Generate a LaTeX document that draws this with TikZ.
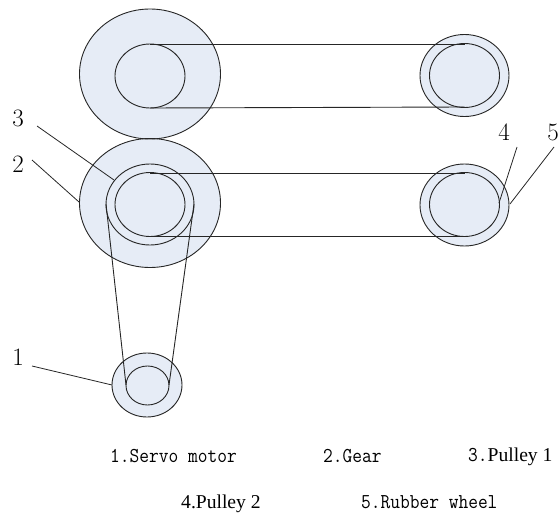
\documentclass[tikz,border=0pt]{standalone}
\usepackage{fontspec}
\newfontfamily\serifpart{Liberation Serif}
\newcommand{\mono}{\ttfamily\fontsize{18.9}{20}\selectfont}
\tikzset{
  x=1pt,y=-1pt,
  rim/.style={draw=black!85,line width=0.9pt},
  belt/.style={draw=black!85,line width=0.9pt},
  leader/.style={draw=black!85,line width=0.8pt},
  numlabel/.style={inner sep=0pt,font=\fontsize{25}{27}\selectfont},
  legend/.style={inner sep=0pt,anchor=base west,font=\mono},
}
\definecolor{wheelfill}{HTML}{E6ECF6}
\newcommand{\pul}[1]{{\serifpart\fontsize{19.6}{22}\selectfont #1}}
\newcommand{\tall}[1]{\scalebox{1}[1.12]{#1}}
\begin{document}
\begin{tikzpicture}
\useasboundingbox (0,0) rectangle (558,514);
% filled discs
\fill[wheelfill] (150,74) ellipse [x radius=70.5,y radius=65];
\fill[wheelfill] (150,203) ellipse [x radius=70.5,y radius=64.5];
\fill[wheelfill] (464.5,75.5) ellipse [x radius=44.5,y radius=41];
\fill[wheelfill] (464.5,205) ellipse [x radius=44.5,y radius=41];
\fill[wheelfill] (147,385) ellipse [x radius=35,y radius=32];
% named points
\coordinate (t1) at (150,44); \coordinate (t2) at (464.5,44);
\coordinate (b1) at (150,108); \coordinate (b2) at (464.5,107);
\coordinate (t3) at (150,173); \coordinate (t4) at (464.5,173);
\coordinate (b3) at (150,236); \coordinate (b4) at (464.5,236);
\coordinate (pl) at (106,204); \coordinate (pr) at (194,204);
\coordinate (ml) at (126,385); \coordinate (mr) at (169,385);
% belts
\draw[belt] (t1) -- (t2);
\draw[belt] (b1) -- (b2);
\draw[belt] (t3) -- (t4);
\draw[belt] (b3) -- (b4);
\draw[belt] (pl) -- (ml);
\draw[belt] (pr) -- (mr);
% outlines
\draw[rim] (150,74) ellipse [x radius=70.5,y radius=65];
\draw[rim] (150,76) ellipse [x radius=35,y radius=32];
\draw[rim] (150,203) ellipse [x radius=70.5,y radius=64.5];
\draw[rim] (150,204.5) ellipse [x radius=44,y radius=40.5];
\draw[rim] (150,204.5) ellipse [x radius=35,y radius=32];
\draw[rim] (464.5,75.5) ellipse [x radius=44.5,y radius=41];
\draw[rim] (464.5,75.5) ellipse [x radius=35,y radius=32];
\draw[rim] (464.5,205) ellipse [x radius=44.5,y radius=41];
\draw[rim] (464.5,204.5) ellipse [x radius=35,y radius=32];
\draw[rim] (147,385) ellipse [x radius=35,y radius=32];
\draw[rim] (147.5,385.5) ellipse [x radius=21.5,y radius=19.5];
% numbers and leaders
\node[numlabel] (n3) at (18,118) {3};
\node[numlabel] (n2) at (18,164) {2};
\node[numlabel] (n1) at (18,357) {1};
\node[numlabel] (n4) at (504,132) {4};
\node[numlabel] (n5) at (553,132) {5};
\coordinate (a3) at (37,126); \coordinate (e3) at (114,180);
\coordinate (a2) at (32,160); \coordinate (e2) at (79,202);
\coordinate (a1) at (32,366); \coordinate (e1) at (112,385);
\coordinate (a4) at (517,147); \coordinate (e4) at (499,203);
\coordinate (a5) at (554,147); \coordinate (e5) at (510,204);
\draw[leader] (a3) -- (e3);
\draw[leader] (a2) -- (e2);
\draw[leader] (a1) -- (e1);
\draw[leader] (a4) -- (e4);
\draw[leader] (a5) -- (e5);
% legend
\node[legend] (l1) at (110,462) {\tall{1.Servo motor}};
\node[legend] (l2) at (323,462) {\tall{2.Gear}};
\node[legend] (l3) at (468,461) {\tall{3.}\pul{Pulley 1}};
\node[legend] (l4) at (181,508) {\pul{4.Pulley 2}};
\node[legend] (l5) at (361,508) {\tall{5.Rubber wheel}};
\end{tikzpicture}
\end{document}
